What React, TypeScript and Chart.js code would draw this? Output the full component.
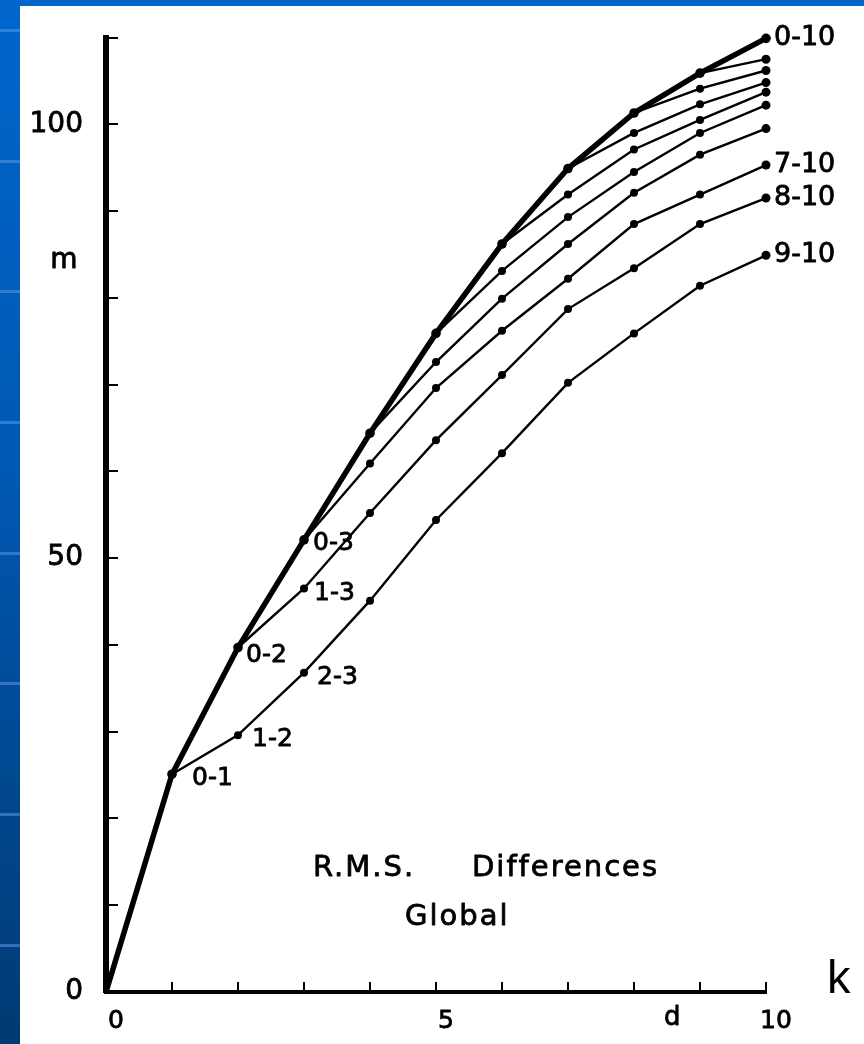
import React, { useEffect, useRef } from "react";
import { Chart, registerables } from "chart.js";

Chart.register(...registerables);

// k (forecast day) values along the x axis
const kValues = [0, 1, 2, 3, 4, 5, 6, 7, 8, 9, 10];
// 0-k curve (thick envelope): RMS difference between day 0 and day k
const envelope = [0, 25.1, 39.7, 52.1, 64.4, 75.9, 86.2, 94.9, 101.3, 105.9, 109.9];
// lag-d curves: (k-d)-k differences, starting at k = d
const lag1 = [25.1, 29.6, 36.8, 45.1, 54.4, 62.1, 70.2, 75.9, 81.4, 84.9];
const lag2 = [39.7, 46.5, 55.2, 63.6, 71.1, 78.7, 83.4, 88.5, 91.5];
const lag3 = [52.1, 60.9, 69.6, 76.2, 82.2, 88.5, 91.9, 95.3];
const lag4 = [64.4, 72.6, 79.9, 86.2, 92.1, 96.5, 99.5];
const lag5 = [75.9, 83.1, 89.3, 94.5, 99.0, 102.2];
const lag6 = [86.2, 91.9, 97.1, 100.5, 103.7];
const lag7 = [94.9, 99.0, 102.3, 104.8];
const lag8 = [101.3, 104.1, 106.2];
const lag9 = [105.9, 107.5];
const lagSeries = [lag1, lag2, lag3, lag4, lag5, lag6, lag7, lag8, lag9];

const pointLabels = ["0-1", "1-2", "0-2", "2-3", "1-3", "0-3", "7-10", "8-10", "9-10", "0-10"];
const yTickLabels = [0, 50, 100];
const xTickLabels = [0, 5, 10];
const yAxisName = "m";
const xAxisName = "k";
const xMidLabel = "d";
const titleWords = ["R.M.S.", "Differences"];
const subtitle = "Global";

// styling offsets (pixels) for the curve labels
const LABEL_OFFSETS: Record<string, [number, number]> = {
  "0-1": [20, 4],
  "1-2": [14, 4],
  "0-2": [8, 8],
  "2-3": [13, 5],
  "1-3": [10, 5],
  "0-3": [9, 4],
};

function valueFor(label: string) {
  const [i, j] = label.split("-").map(Number);
  if (i === 0) return { k: j, v: envelope[j] };
  const lag = j - i;
  return { k: j, v: lagSeries[lag - 1][j - lag] };
}

const FONT = '"DejaVu Sans", sans-serif';

function boldText(ctx: CanvasRenderingContext2D, t: string, x: number, y: number) {
  ctx.fillText(t, x, y);
  ctx.strokeText(t, x, y);
}

const textPlugin = {
  id: "textPlugin",
  afterDraw(chart: any) {
    const { ctx, chartArea, scales } = chart;
    const x = scales.x;
    const y = scales.y;
    ctx.save();
    ctx.fillStyle = "#000";
    ctx.strokeStyle = "#000";
    ctx.lineWidth = 0.8;
    ctx.lineJoin = "round";
    ctx.textBaseline = "middle";
    ctx.textAlign = "left";
    for (const lab of pointLabels) {
      const { k, v } = valueFor(lab);
      const px = x.getPixelForValue(k);
      const py = y.getPixelForValue(v);
      const [dx, dy] = LABEL_OFFSETS[lab] ?? [8, 0];
      ctx.font = (k === 10 ? "27px " : "25px ") + FONT;
      boldText(ctx, lab, px + dx, py + dy);
    }
    // y axis name
    ctx.font = "28px " + FONT;
    ctx.textAlign = "center";
    boldText(ctx, yAxisName, chartArea.left - 42, y.getPixelForValue(84.3));
    // mid x label
    ctx.font = "26px " + FONT;
    boldText(ctx, xMidLabel, x.getPixelForValue(8.58), chartArea.bottom + 26);
    // x axis name
    ctx.font = '47px "Liberation Sans", sans-serif';
    ctx.textAlign = "left";
    ctx.textBaseline = "alphabetic";
    ctx.fillText(xAxisName, chartArea.right + 61, chartArea.bottom + 1);
    // annotation
    ctx.textBaseline = "middle";
    ctx.font = "29px " + FONT;
    try {
      (ctx as any).letterSpacing = "2px";
    } catch (e) {}
    boldText(ctx, titleWords[0], chartArea.left + 207, chartArea.bottom - 124);
    boldText(ctx, titleWords[1], chartArea.left + 366, chartArea.bottom - 124);
    boldText(ctx, subtitle, chartArea.left + 299, chartArea.bottom - 75);
    try {
      (ctx as any).letterSpacing = "0px";
    } catch (e) {}
    ctx.restore();
  },
};

export default function App() {
  const ref = useRef<HTMLCanvasElement | null>(null);

  useEffect(() => {
    if (!ref.current) return;
    const datasets: any[] = [
      {
        label: "0-k",
        data: kValues.map((k, i) => ({ x: k, y: envelope[i] })),
        borderColor: "#000",
        backgroundColor: "#000",
        borderWidth: 5.5,
        pointRadius: (c: any) => (c.dataIndex === 0 ? 0 : 4.8),
        pointBorderWidth: 0,
        pointBackgroundColor: "#000",
        tension: 0,
        clip: false,
      },
      ...lagSeries.map((s, idx) => ({
        label: "lag " + (idx + 1),
        data: s.map((v, i) => ({ x: idx + 1 + i, y: v })),
        borderColor: "#000",
        backgroundColor: "#000",
        borderWidth: 2.4,
        pointRadius: (c: any) => (c.dataIndex === s.length - 1 ? 4.5 : 4),
        pointBorderWidth: 0,
        pointBackgroundColor: "#000",
        tension: 0,
        clip: false,
      })),
    ];

    const chart = new Chart(ref.current, {
      type: "line",
      data: { datasets },
      plugins: [textPlugin],
      options: {
        animation: false,
        responsive: false,
        events: [],
        layout: { padding: { left: 0, right: 98, top: 37.5, bottom: 0 } },
        plugins: { legend: { display: false }, tooltip: { enabled: false } },
        scales: {
          x: {
            type: "linear",
            min: 0,
            max: 10,
            afterFit: (s: any) => {
              s.height = 52;
              s.paddingLeft = 0;
              s.paddingRight = 0;
            },
            ticks: {
              stepSize: 1,
              autoSkip: false,
              maxRotation: 0,
              padding: 24,
              labelOffset: 10,
              color: "#000",
              textStrokeColor: "#000",
              textStrokeWidth: 0.8,
              font: { family: "DejaVu Sans", size: 25 },
              callback: (v: any) => (xTickLabels.includes(Number(v)) ? String(v) : ""),
            },
            grid: {
              drawOnChartArea: false,
              drawTicks: true,
              tickLength: -10,
              tickWidth: 2,
              tickColor: "#000",
              color: "#000",
              lineWidth: 2,
            },
            border: { display: true, color: "#000", width: 4 },
          },
          y: {
            type: "linear",
            min: 0,
            max: 110,
            afterFit: (s: any) => {
              s.width = 106;
              s.paddingTop = 0;
              s.paddingBottom = 0;
            },
            ticks: {
              stepSize: 10,
              autoSkip: false,
              padding: 35,
              color: "#000",
              textStrokeColor: "#000",
              textStrokeWidth: 0.8,
              font: { family: "DejaVu Sans", size: 28 },
              callback: (v: any) => (yTickLabels.includes(Number(v)) ? String(v) : ""),
            },
            grid: {
              drawOnChartArea: false,
              drawTicks: true,
              tickLength: -12,
              tickWidth: 2,
              tickColor: "#000",
              color: "#000",
              lineWidth: 2,
            },
            border: { display: true, color: "#000", width: 6 },
          },
        },
      },
    } as any);
    return () => chart.destroy();
  }, []);

  return (
    <div
      style={{
        position: "fixed",
        left: 0,
        top: 0,
        width: 864,
        height: 1044,
        overflow: "hidden",
        background: "linear-gradient(180deg, #0066cc 0%, #0058b2 45%, #003a72 100%)",
      }}
    >
      <div
        style={{
          position: "absolute",
          left: 0,
          top: 0,
          width: 20,
          height: 1044,
          background:
            "repeating-linear-gradient(180deg, rgba(0,0,0,0) 0px, rgba(0,0,0,0) 29px, rgba(90,150,230,0.55) 29px, rgba(90,150,230,0.55) 32px, rgba(0,0,0,0) 32px, rgba(0,0,0,0) 130.7px)",
        }}
      />
      <div
        style={{
          position: "absolute",
          left: 20,
          top: 6,
          width: 844,
          height: 1038,
          background: "#fff",
        }}
      />
      <canvas
        ref={ref}
        width={864}
        height={1044}
        style={{ position: "absolute", left: 0, top: 0, width: 864, height: 1044 }}
      />
    </div>
  );
}
